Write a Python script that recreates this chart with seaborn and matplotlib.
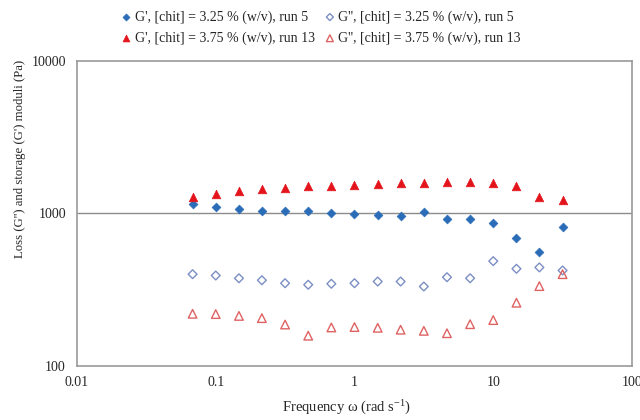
import numpy as np
import pandas as pd
import matplotlib
matplotlib.use("Agg")
import matplotlib.pyplot as plt
import seaborn as sns

freq = [0.0681, 0.1, 0.147, 0.215, 0.316, 0.464, 0.681, 1.0, 1.47, 2.15,
        3.16, 4.64, 6.81, 10.0, 14.7, 21.5, 31.6]
g1_store = [1158, 1111, 1067, 1041, 1031, 1031, 1005, 989, 975, 956,
            1026, 923, 918, 864, 693, 557, 810]
g1_loss = [400, 392, 376, 365, 349, 341, 346, 349, 358, 358,
           332, 382, 376, 487, 434, 443, 423]
g2_store = [1292, 1332, 1394, 1437, 1474, 1519, 1519, 1549, 1566, 1590,
            1590, 1604, 1614, 1590, 1519, 1292, 1217]
g2_loss = [220, 219, 213, 206, 187, 158, 179, 180, 178, 173,
           170, 164, 188, 200, 260, 334, 400]

labels = ["G', [chit] = 3.25 % (w/v), run 5",
          "G'', [chit] = 3.25 % (w/v), run 5",
          "G', [chit] = 3.75 % (w/v), run 13",
          "G'', [chit] = 3.75 % (w/v), run 13"]

sns.set_style("white")
plt.rcParams['font.family'] = ['Liberation Serif', 'DejaVu Serif']
plt.rcParams['mathtext.default'] = 'regular'

fig = plt.figure(figsize=(6.4, 4.2), dpi=100)
ax = fig.add_axes([0.1203, 0.1286, 0.8672, 0.7262])

blue = "#2b6cb8"
red = "#e3141b"
lblue = "#7c8fc4"
lred = "#e06262"

sns.scatterplot(x=freq, y=g1_store, ax=ax, marker="D", s=20, color=blue,
                edgecolor=blue, linewidth=0.5, label=labels[0], zorder=3)
sns.scatterplot(x=freq, y=g2_store, ax=ax, marker="^", s=38, color=red,
                edgecolor=red, linewidth=0.5, label=labels[2], zorder=3)
sns.scatterplot(x=freq, y=g1_loss, ax=ax, marker="D", s=20, facecolor="none",
                edgecolor=lblue, linewidth=1.0, label=labels[1], zorder=3)
sns.scatterplot(x=freq, y=g2_loss, ax=ax, marker="^", s=38, facecolor="none",
                edgecolor=lred, linewidth=1.0, label=labels[3], zorder=3)

ax.set_xscale("log")
ax.set_yscale("log")
ax.set_xlim(0.01, 100)
ax.set_ylim(100, 10000)
ax.set_xticks([0.01, 0.1, 1, 10, 100])
ax.set_xticklabels(["0.01", "0.1", "1", "10", "100"])
ax.set_yticks([100, 1000, 10000])
ax.set_yticklabels(["100", "1000", "10000"])
ax.minorticks_off()
ax.axhline(1000, color="#8c8c8c", lw=1.0, zorder=1)

for s in ax.spines.values():
    s.set_color("#9a9a9a")
    s.set_linewidth(1.2)

ax.tick_params(axis="x", which="major", direction="inout", length=6,
               color="#8c8c8c", labelsize=10, pad=4)
ax.tick_params(axis="y", which="major", direction="out", length=4,
               color="#8c8c8c", labelsize=10, pad=4)

ax.set_xlabel("Frequency ω (rad s$^{-1}$)", fontsize=10.5)
ax.xaxis.set_label_coords(0.485, -0.108)
ax.set_ylabel("Loss (G'') and storage (G') moduli (Pa)", fontsize=9.2)
ax.yaxis.set_label_coords(-0.092, 0.68)

handles, labs = ax.get_legend_handles_labels()
ax.get_legend().remove()
order = [labels[0], labels[2], labels[1], labels[3]]
hmap = dict(zip(labs, handles))
fig.legend([hmap[l] for l in order], order, loc="upper center",
           bbox_to_anchor=(0.5, 1.005), ncol=2, frameon=False, fontsize=10,
           handletextpad=0.1, columnspacing=0.6, labelspacing=0.55,
           handlelength=1.0, markerscale=0.8)

fig.savefig("out.png", dpi=100)
